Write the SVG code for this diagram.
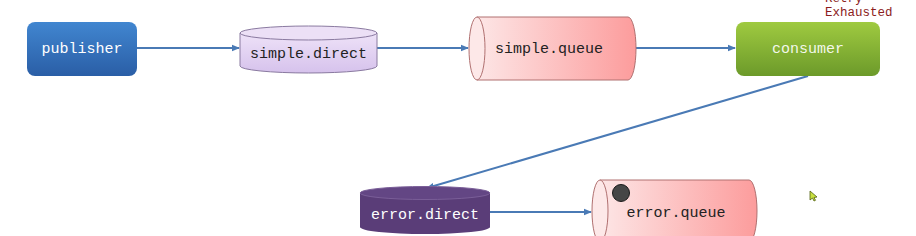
<svg xmlns="http://www.w3.org/2000/svg" width="916" height="236" viewBox="0 0 916 236">
<defs>
<linearGradient id="gBlue" x1="0" y1="0" x2="0" y2="1"><stop offset="0" stop-color="#4186d0"/><stop offset="1" stop-color="#2a5ea6"/></linearGradient>
<linearGradient id="gGreen" x1="0" y1="0" x2="0" y2="1"><stop offset="0" stop-color="#9fca40"/><stop offset="1" stop-color="#6c9a2a"/></linearGradient>
<linearGradient id="gLav" x1="0" y1="0" x2="0" y2="1"><stop offset="0" stop-color="#eee2f8"/><stop offset="1" stop-color="#d6c2ec"/></linearGradient>
<linearGradient id="gPink" x1="0" y1="0" x2="1" y2="0"><stop offset="0" stop-color="#fde6e6"/><stop offset="1" stop-color="#fc9c9c"/></linearGradient>
<marker id="arr" markerWidth="8" markerHeight="8" refX="7" refY="4" orient="auto" markerUnits="userSpaceOnUse"><path d="M0,0.8 L8,4 L0,7.2 Z" fill="#4a7ab5"/></marker>
</defs>
<style>
.t{font-family:"Liberation Mono","DejaVu Sans Mono",monospace;font-size:15px;text-anchor:middle;dominant-baseline:central}
.w{fill:#ffffff}
.k{fill:#222222}
.c{stroke:#4a7ab5;stroke-width:2;fill:none;marker-end:url(#arr)}
.red{font-family:"Liberation Mono","DejaVu Sans Mono",monospace;font-size:12.5px;fill:#8b1c1c}
</style>
<g id="connectors">
<line class="c" x1="137" y1="48" x2="239" y2="48"/>
<line class="c" x1="377" y1="48" x2="468" y2="48"/>
<line class="c" x1="636" y1="48" x2="735" y2="48"/>
<line class="c" x1="808" y1="76" x2="427" y2="188"/>
<line class="c" x1="490" y1="212" x2="591" y2="212"/>
</g>
<g id="publisher">
<rect x="27" y="22" width="110" height="54" rx="8" fill="url(#gBlue)"/>
<text class="t w" x="82" y="49">publisher</text>
</g>
<g id="simple.direct">
<path d="M240,33 L240,66 A68.5,7 0 0 0 377,66 L377,33 Z" fill="url(#gLav)" stroke="#8a7aa0" stroke-width="1"/>
<ellipse cx="308.5" cy="33" rx="68.5" ry="7" fill="#ece0f6" stroke="#8a7aa0" stroke-width="1"/>
<text class="t k" x="308.5" y="54">simple.direct</text>
</g>
<g id="simple.queue">
<path d="M477,17 L628,17 A8,31.5 0 0 1 628,80 L477,80 Z" fill="url(#gPink)" stroke="#b07070" stroke-width="1"/>
<ellipse cx="477" cy="48.5" rx="8" ry="31.5" fill="#fde8e8" stroke="#b07070" stroke-width="1"/>
<text class="t k" x="549" y="49">simple.queue</text>
</g>
<g id="consumer">
<rect x="736" y="22" width="144" height="54" rx="8" fill="url(#gGreen)"/>
<text class="t w" x="808" y="49" fill-opacity="0.92">consumer</text>
<text class="red" x="825" y="2">Retry</text>
<text class="red" x="825" y="16">Exhausted</text>
</g>
<g id="error.direct">
<path d="M360,193 L360,227 A65,7 0 0 0 490,227 L490,193 Z" fill="#5a3d78"/>
<ellipse cx="425" cy="193" rx="65" ry="6.5" fill="#634684" stroke="#7a5e98" stroke-width="1"/>
<text class="t w" x="425" y="215">error.direct</text>
</g>
<g id="error.queue">
<path d="M600,180 L749,180 A8,31 0 0 1 749,242 L600,242 Z" fill="url(#gPink)" stroke="#b07070" stroke-width="1"/>
<ellipse cx="600" cy="211" rx="8" ry="31" fill="#fde8e8" stroke="#b07070" stroke-width="1"/>
<circle cx="621" cy="193" r="8.5" fill="#464646" stroke="#1a1a1a" stroke-width="1"/>
<text class="t k" x="676" y="213">error.queue</text>
</g>
<path d="M810,191 L810,200 L812.5,198 L814,201 L815.5,200.3 L814,197.5 L817,197 Z" fill="#c8e040" stroke="#506010" stroke-width="0.8"/>
</svg>
